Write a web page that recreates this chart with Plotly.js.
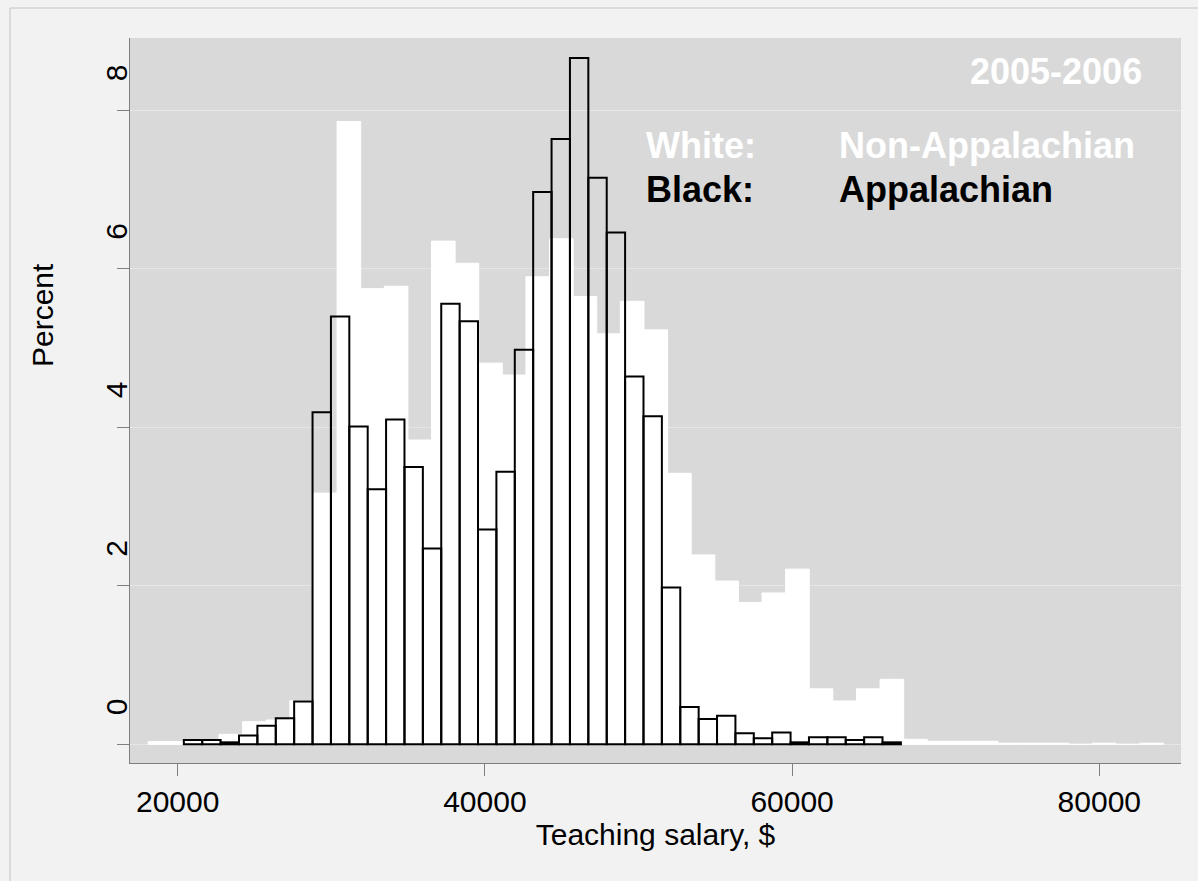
<!DOCTYPE html>
<html>
<head>
<meta charset="utf-8">
<script src="https://cdn.plot.ly/plotly-3.0.1.min.js"></script>
<style>
html,body{margin:0;padding:0;background:#f2f2f2;}
#chart{width:1198px;height:881px;}
</style>
</head>
<body>
<div id="chart"></div>
<script>
// Appalachian (black outline) histogram
const appBinStart = 20400;
const appBinWidth = 1197;
const appPercent = [0.054,0.054,0.025,0.11,0.235,0.33,0.54,4.19,5.40,4.01,3.22,4.10,3.50,2.47,5.56,5.34,2.71,3.44,4.98,6.97,7.64,8.66,7.15,6.46,4.64,4.14,1.98,0.47,0.32,0.36,0.14,0.075,0.15,0.025,0.09,0.09,0.054,0.09,0.025];

// Non-Appalachian (white) histogram
const nonAppBinStart = 18080;
const nonAppBinWidth = 1537;
const nonAppPercent = [0.033,0.033,0.04,0.126,0.285,0.307,0.55,3.17,7.86,5.75,5.78,3.84,6.35,6.07,4.81,4.66,5.9,6.38,5.65,5.18,5.59,5.23,3.42,2.39,2.06,1.79,1.91,2.21,0.70,0.547,0.70,0.82,0.063,0.038,0.038,0.038,0.014,0.014,0.014,0,0.014,0,0.014];

const xTickVals = [20000,40000,60000,80000];
const xTickText = ['20000','40000','60000','80000'];
const yTickVals = [0,2,4,6,8];
const yTickText = ['0','2','4','6','8'];

const yearLabel = '2005-2006';
const legendRows = [
  {key:'White:', name:'Non-Appalachian', color:'#ffffff'},
  {key:'Black:', name:'Appalachian', color:'#000000'}
];

const FONT = 'Liberation Sans, Arial, Helvetica, sans-serif';

const nonAppEdges = nonAppPercent.map((_, i) => nonAppBinStart + i * nonAppBinWidth);
const appEdges = appPercent.map((_, i) => appBinStart + i * appBinWidth);

const traces = [
  {
    type:'bar', x: nonAppEdges, y: nonAppPercent,
    width: nonAppBinWidth, offset: 0,
    marker:{color:'#ffffff', line:{color:'#ffffff', width:1}},
    hoverinfo:'x+y', showlegend:false, name:'Non-Appalachian'
  },
  {
    type:'bar', x: appEdges, y: appPercent,
    width: appBinWidth, offset: 0,
    marker:{color:'rgba(0,0,0,0)', line:{color:'#000000', width:2}},
    hoverinfo:'x+y', showlegend:false, name:'Appalachian'
  }
];

// paper-coordinate helpers for the fixed plot box (130..1181 x 38..763)
const PL = 130, PR = 1181, PT = 38, PB = 763;
const px = v => (v - PL) / (PR - PL);
const py = v => (PB - v) / (PB - PT);

const annotations = [
  {text: yearLabel, x: px(1144), y: py(71), xanchor:'right', yanchor:'middle',
   xref:'paper', yref:'paper', showarrow:false,
   font:{family:FONT, size:36, color:'#ffffff', weight:'bold'}},
  {text:'Percent', x: px(42), y: py(315), xanchor:'center', yanchor:'middle',
   xref:'paper', yref:'paper', showarrow:false, textangle:-90,
   font:{family:FONT, size:30, color:'#000000'}}
];
legendRows.forEach((r, i) => {
  const cy = 145 + i * 45;
  annotations.push({text:'<b>' + r.key + '</b>', x: px(644), y: py(cy), xanchor:'left', yanchor:'middle',
    xref:'paper', yref:'paper', showarrow:false, font:{family:FONT, size:36, color:r.color}});
  annotations.push({text:'<b>' + r.name + '</b>', x: px(837), y: py(cy), xanchor:'left', yanchor:'middle',
    xref:'paper', yref:'paper', showarrow:false, font:{family:FONT, size:36, color:r.color}});
});

const layout = {
  width:1198, height:881,
  margin:{l:PL, r:1198-PR, t:PT, b:881-PB, pad:0},
  paper_bgcolor:'#f2f2f2', plot_bgcolor:'#d9d9d9',
  font:{family:FONT, color:'#000000', size:30},
  barmode:'overlay', bargap:0, showlegend:false,
  xaxis:{
    range:[16895, 85319], tickvals:xTickVals, ticktext:xTickText,
    ticks:'outside', ticklen:12, tickwidth:1, tickcolor:'#7f7f7f',
    showline:true, linecolor:'#7f7f7f', linewidth:1,
    showgrid:false, zeroline:false,
    tickfont:{family:FONT, size:30, color:'#000000'},
    title:{text:'Teaching salary, $', font:{family:FONT, size:30, color:'#000000'}, standoff:6}
  },
  yaxis:{
    range:[-0.236, 8.913], tickvals:yTickVals, ticktext:yTickText,
    tickangle:-90, ticklabelshift:-33, ticklabelstandoff:-22,
    ticks:'outside', ticklen:12, tickwidth:1, tickcolor:'#7f7f7f',
    showline:true, linecolor:'#7f7f7f', linewidth:1,
    showgrid:true, gridcolor:'#e6e6e6', gridwidth:1, zeroline:false,
    tickfont:{family:FONT, size:30, color:'#000000'}
  },
  annotations: annotations,
  shapes:[
    {type:'line', xref:'paper', yref:'paper', x0:px(10), x1:px(10), y0:py(8), y1:py(881), line:{color:'#c4c4c4', width:1}},
    {type:'line', xref:'paper', yref:'paper', x0:px(10), x1:px(1198), y0:py(8), y1:py(8), line:{color:'#c4c4c4', width:1}}
  ]
};

Plotly.newPlot('chart', traces, layout, {displayModeBar:false, staticPlot:true});
</script>
</body>
</html>
